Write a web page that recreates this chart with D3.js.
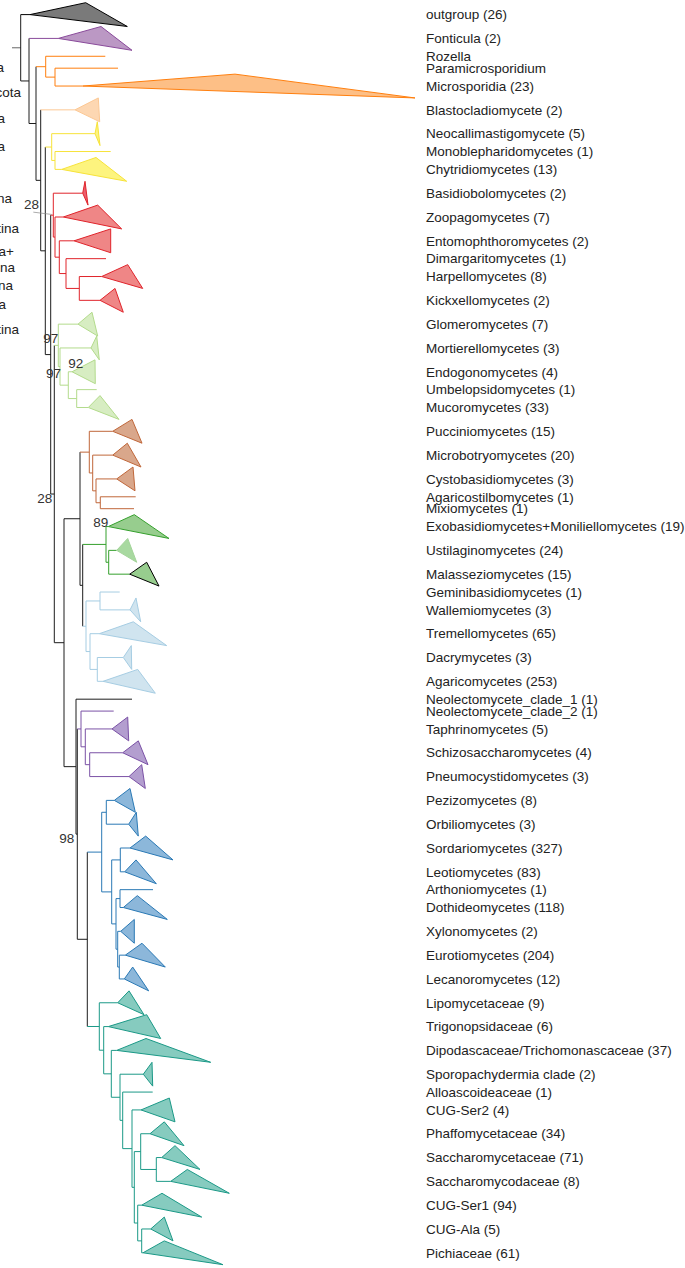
<!DOCTYPE html>
<html>
<head>
<meta charset="utf-8">
<script src="https://cdn.jsdelivr.net/npm/d3@7"></script>
<style>
  body { margin: 0; background: #fff; }
  text { font-family: "Liberation Sans", Arial, sans-serif; }
</style>
</head>
<body>
<svg id="chart" width="685" height="1268"></svg>
<script>
//Taxa in tip order, with number of genomes in each collapsed clade (null = not shown)
var taxa = ["outgroup", "Fonticula", "Rozella", "Paramicrosporidium", "Microsporidia",
  "Blastocladiomycete", "Neocallimastigomycete", "Monoblepharidomycetes", "Chytridiomycetes",
  "Basidiobolomycetes", "Zoopagomycetes", "Entomophthoromycetes", "Dimargaritomycetes",
  "Harpellomycetes", "Kickxellomycetes", "Glomeromycetes", "Mortierellomycetes",
  "Endogonomycetes", "Umbelopsidomycetes", "Mucoromycetes", "Pucciniomycetes",
  "Microbotryomycetes", "Cystobasidiomycetes", "Agaricostilbomycetes", "Mixiomycetes",
  "Exobasidiomycetes+Moniliellomycetes", "Ustilaginomycetes", "Malasseziomycetes",
  "Geminibasidiomycetes", "Wallemiomycetes", "Tremellomycetes", "Dacrymycetes",
  "Agaricomycetes", "Neolectomycete_clade_1", "Neolectomycete_clade_2", "Taphrinomycetes",
  "Schizosaccharomycetes", "Pneumocystidomycetes", "Pezizomycetes", "Orbiliomycetes",
  "Sordariomycetes", "Leotiomycetes", "Arthoniomycetes", "Dothideomycetes", "Xylonomycetes",
  "Eurotiomycetes", "Lecanoromycetes", "Lipomycetaceae", "Trigonopsidaceae",
  "Dipodascaceae/Trichomonascaceae", "Sporopachydermia clade", "Alloascoideaceae", "CUG-Ser2",
  "Phaffomycetaceae", "Saccharomycetaceae", "Saccharomycodaceae", "CUG-Ser1", "CUG-Ala",
  "Pichiaceae"];

var counts = [26, 2, null, null, 23, 2, 5, 1, 13, 2, 7, 2, 1, 8, 2, 7, 3, 4, 1, 33, 15, 20, 3, 1, 1,
  19, 24, 15, 1, 3, 65, 3, 253, 1, 1, 5, 4, 3, 8, 3, 327, 83, 1, 118, 2, 204, 12, 9, 6, 37, 2, 1,
  4, 34, 71, 8, 94, 5, 61];

//Collapsed clades: shortest and longest tip distance past the clade node (null = single tip)
var tipRange = [[55.7, 97.3], [42.7, 73.7], null, null, [152, 332], [23.3, 24.7], [2.3, 5], null,
  [34.3, 65], [2.3, 5.3], [34.4, 58.4], [36.7, 36.7], null, [26, 41], [15, 23.3], [14, 19.7],
  [5.7, 8.3], [23, 23.3], null, [11.7, 30.7], [19.3, 29.3], [14.6, 28.3], [16.3, 18.3], null, null,
  [26, 60.7], [11, 20], [17, 29.3], null, [6, 10.7], [34, 67.4], [8, 8.4], [34.7, 52.3], null, null,
  [15.7, 16.7], [15.6, 25.3], [12.7, 16.3], [15.7, 21], [7.6, 9.6], [15.7, 43], [11.3, 31.6], null,
  [14, 44], [13.6, 13.6], [16.7, 40], [8.4, 24.4], [11.3, 26.3], [38.4, 52.4], [29.3, 94],
  [8.7, 9.4], null, [28.3, 34], [14.3, 34], [13.3, 38.3], [16.6, 58.6], [20.3, 60], [13.6, 22.3],
  [21.3, 80]];

//Topology with branch lengths
var basidio = "((Pucciniomycetes:23.4,(Microbotryomycetes:20,(Cystobasidiomycetes:20.7,(Agaricostilbomycetes:35.4,Mixiomycetes:33.7)Pc3:4.3)Pc2:3.3)Pc1:3.4)Pucciniomycotina:9.3," +
  "((Exobasidiomycetes+Moniliellomycetes:2.3,(Ustilaginomycetes:8,Malasseziomycetes:21)Ust1:2.7)Ustilaginomycotina:23.3," +
  "((Geminibasidiomycetes:19.7,Wallemiomycetes:30)Aga1:14,(Tremellomycetes:9.3,(Dacrymycetes:26,Agaricomycetes:5.7)Aga3:7.3)Aga2:4)Agaricomycotina:3.3)UA:2.7)Basidiomycota:16";
var pezizo = "((Pezizomycetes:8,Orbiliomycetes:22.4)Pez1:4.6,((Sordariomycetes:9.7,Leotiomycetes:4.4)Leo1:8.6," +
  "((Arthoniomycetes:33,Dothideomycetes:3.3)Leo3:4,(Xylonomycetes:3,(Eurotiomycetes:6,Lecanoromycetes:5)Leo5:1.6)Leo4:1.7)Leo2:4.3)Leo0:10)Pezizomycotina:14.4";
var saccharo = "(Lipomycetaceae:18.4,(Trigonopsidaceae:4.6,(Dipodascaceae/Trichomonascaceae:5.4,(Sporopachydermia clade:23.3," +
  "(Alloascoideaceae:30,(CUG-Ser2:9,((Phaffomycetaceae:9.3,(Saccharomycetaceae:5.4,Saccharomycodaceae:14.4)Sac8:15.6)Sac7:6.4," +
  "(CUG-Ser1:4,(CUG-Ala:9,Pichiaceae:1.3)Sac10:4)Sac9:3.4)Sac6:2.3)Sac5:9.3)Sac4:2.7)Sac3:8.7)Sac2:7.6)Sac1:4.4)Saccharomycotina:12";
var asco = "(Neolectomycete_clade_1:56,((Neolectomycete_clade_2:32.7,(Taphrinomycetes:26.7,(Schizosaccharomycetes:33,Pneumocystidomycetes:39.3)Taph2:4.4)Taph1:4.3)Taphrinomycotina:3.7," +
  "(" + pezizo + "," + saccharo + ")PS:10)As1:1.3)Ascomycota:12";
var newick = "(outgroup:9.3,(Fonticula:29.3,(" +
  "(Rozella:59.6,(Paramicrosporidium:63,Microsporidia:28)PM:9.3)Rozellomycota:9.7," +
  "(Blastocladiomycete:34.3,(" +
  "(Neocallimastigomycete:43.3,(Monoblepharidomycetes:55.7,Chytridiomycetes:6.7)Y2:3.3)Chytridiomycota:6.4,(" +
  "(Basidiobolomycetes:29.4,(Zoopagomycetes:8.3,(Entomophthoromycetes:14.7,(Dimargaritomycetes:40,(Harpellomycetes:22.4,Kickxellomycetes:20.7)Z4:13.3)Z3:6.7)Z2:4.3)Z1:1.7)Zoopagomycota:2.6,(" +
  "(Glomeromycetes:19.7,(Mortierellomycetes:31,(Endogonomycetes:3.7,(Umbelopsidomycetes:20,Mucoromycetes:11.6)M3:8.4)M2:8.3)M1:1.7)Mucoromycota:4,(" +
  basidio + "," + asco +
  ")R:9.7)Q:3.6)P:5.4)N5:4.6)B2b:4.7)B2:7)B:8.3)root;";
var rootLength = 8.7;

//Bootstrap support shown on a few nodes
var support = [["Zoopagomycota", 28], ["Mucoromycota", 97], ["M1", 97], ["M2", 92], ["Q", 28],
  ["Exobasidiomycetes+Moniliellomycetes", 89], ["As1", 98]];

//Clades coloured in the figure (node that starts the colour)
var cladeGroups = {
  "outgroup": "outgroup", "Fonticula": "fonticula", "Rozellomycota": "rozello",
  "Blastocladiomycete": "blasto", "Chytridiomycota": "chytrid", "Zoopagomycota": "zoopago",
  "Mucoromycota": "mucoro", "Pucciniomycotina": "puccinio", "Ustilaginomycotina": "ustilago",
  "Agaricomycotina": "agarico", "Taphrinomycotina": "taphrino", "Pezizomycotina": "pezizo",
  "Saccharomycotina": "saccharo"
};

//Cut-off labels of the panel on the left
var sideLabels = ["Opisthosporidia", "Rozellomycota", "Blastocladiomycota", "Chytridiomycota",
  "Entomophthoromycotina", "Zoopagomycotina", "Kickxellomycotina+", "Dimargaritomycotina",
  "Glomeromycotina", "Mucoromycota", "Mortierellomycotina"];

/*** STYLE ***/
var palette = {
  backbone: { line: "#1c1c1c" },
  outgroup: { line: "#000000", fill: "#7a7a7a" },
  fonticula: { line: "#8a4b9b", fill: "#bb98c4" },
  rozello: { line: "#ff7f0e", fill: "#fdbf86" },
  blasto: { line: "#fcc894", fill: "#fdd7b2" },
  chytrid: { line: "#f7e33a", fill: "#fdf47e" },
  zoopago: { line: "#e0242b", fill: "#ef8686" },
  mucoro: { line: "#b3db8c", fill: "#d7edc2" },
  puccinio: { line: "#c0673a", fill: "#d9a78b" },
  ustilago: { line: "#35a02d", fill: "#97cd8e" },
  agarico: { line: "#a6cde3", fill: "#d0e4ef" },
  taphrino: { line: "#7b52a6", fill: "#b39ecf" },
  pezizo: { line: "#2a79b5", fill: "#8cb7da" },
  saccharo: { line: "#1b9987", fill: "#86cbbf" }
};
var tipStyle = {
  "Malasseziomycetes": { line: "#000000" },
  "Ustilaginomycetes": { line: "#a3d499", fill: "#a8d9a0" },
  "Basidiobolomycetes": { fill: "#ec5f6d" }
};
var supportLayout = {
  "Zoopagomycota": { dx: -14.3, dy: -6, anchor: "end", leader: true },
  "Mucoromycota": { dx: 0, dy: -2, anchor: "end" },
  "M1": { dx: 1, dy: 11.6, anchor: "end" },
  "M2": { dx: 0, dy: -17, anchor: "start" },
  "Q": { dx: -2, dy: 9, anchor: "end" },
  "Exobasidiomycetes+Moniliellomycetes": { dx: 0, dy: 0, anchor: "end" },
  "As1": { dx: -3, dy: 9, anchor: "end" }
};
var sideLayout = [[67, 4], [92, 21], [118, 5], [146, 5], [198, 12], [228, 19], [251, 14], [267, 15], [285, 13], [304, 6], [329, 19]];
var fontSize = 13.5;
var labelX = 426;

/***  FUNCTIONS ***/

//Small Newick reader: names may hold spaces, "+" and "/"
function parseNewick(s) {
  var stack = [];
  var node = {};
  var tokens = s.split(/\s*(;|\(|\)|,|:)\s*/);
  for (var i = 0; i < tokens.length; i++) {
    var t = tokens[i];
    if (t === "(") {
      var child = {};
      node.branchset = [child];
      stack.push(node);
      node = child;
    } else if (t === ",") {
      var sib = {};
      stack[stack.length - 1].branchset.push(sib);
      node = sib;
    } else if (t === ")") {
      node = stack.pop();
    } else if (t === ":" || t === ";" || t === "") {
      continue;
    } else {
      var prev = tokens[i - 1];
      if (prev === ")" || prev === "(" || prev === ",") node.name = t;
      else if (prev === ":") node.length = parseFloat(t);
    }
  }
  return node;
}

function groupOf(n) {
  for (var a = n; a; a = a.parent) {
    if (cladeGroups[a.data.name]) return cladeGroups[a.data.name];
  }
  return "backbone";
}

var index = {};
taxa.forEach(function(t, i) { index[t] = i; });

var root = d3.hierarchy(parseNewick(newick), function(d) { return d.branchset; });

//Distance from root along branches
root.eachBefore(function(n) {
  n.pos = n.parent ? n.parent.pos + (n.data.length || 0) : 0;
});
var maxPos = d3.max(root.leaves(), function(l) {
  var r = tipRange[index[l.data.name]];
  return l.pos + (r ? r[1] : 0);
});

//Collapsed clades take two rows, single tips one row
var leaves = root.leaves();
var totalRows = d3.sum(leaves, function(l) { return tipRange[index[l.data.name]] ? 2 : 1; });

var x = d3.scaleLinear().domain([0, maxPos]).range([20.7, 415]);
var y = d3.scaleLinear().domain([0, totalRows]).range([2.7, 1264.7]);

var acc = 0;
leaves.forEach(function(l) {
  var h = tipRange[index[l.data.name]] ? 2 : 1;
  l.y = y(acc + h / 2);
  acc += h;
});
root.eachAfter(function(n) {
  if (n.children) n.y = (n.children[0].y + n.children[n.children.length - 1].y) / 2;
});

var svg = d3.select("#chart");
var branches = svg.append("g").attr("fill", "none").attr("stroke-width", 1);

//Root stub
branches.append("line")
  .attr("x1", x(-rootLength)).attr("x2", x(0))
  .attr("y1", root.y).attr("y2", root.y)
  .attr("stroke", "#666");

root.descendants().forEach(function(n) {
  var col = palette[groupOf(n)].line;
  if (n.parent) {
    branches.append("line")
      .attr("x1", x(n.parent.pos)).attr("x2", x(n.pos))
      .attr("y1", n.y).attr("y2", n.y)
      .attr("stroke", col);
  }
  if (n.children) {
    branches.append("line")
      .attr("x1", x(n.pos)).attr("x2", x(n.pos))
      .attr("y1", n.children[0].y).attr("y2", n.children[n.children.length - 1].y)
      .attr("stroke", col);
  }
});

//Collapsed clades as triangles
var half = y(1) - y(0);
var tri = svg.append("g");
leaves.forEach(function(l) {
  var r = tipRange[index[l.data.name]];
  if (!r) return;
  var st = Object.assign({}, palette[groupOf(l)], tipStyle[l.data.name] || {});
  var pts = [[x(l.pos), l.y], [x(l.pos + r[0]), l.y - half], [x(l.pos + r[1]), l.y + half]];
  tri.append("path")
    .attr("d", d3.line()(pts) + "Z")
    .attr("fill", st.fill)
    .attr("stroke", st.line)
    .attr("stroke-width", 1)
    .attr("stroke-linejoin", "miter");
});

//Tip labels
svg.append("g").selectAll("text")
  .data(leaves)
  .join("text")
  .attr("x", labelX)
  .attr("y", function(d) { return d.y; })
  .attr("dy", "0.35em")
  .attr("font-size", fontSize)
  .attr("fill", "#222")
  .text(function(d) {
    var c = counts[index[d.data.name]];
    return d.data.name + (c != null ? " (" + c + ")" : "");
  });

//Support values
var byName = {};
root.descendants().forEach(function(n) { if (n.data.name) byName[n.data.name] = n; });
var sup = svg.append("g");
support.forEach(function(s) {
  var n = byName[s[0]];
  var lay = supportLayout[s[0]];
  sup.append("text")
    .attr("x", x(n.pos) + lay.dx)
    .attr("y", n.y + lay.dy)
    .attr("text-anchor", lay.anchor)
    .attr("font-size", fontSize)
    .attr("fill", "#333")
    .text(s[1]);
  if (lay.leader) {
    sup.append("line")
      .attr("x1", x(n.pos) - 20).attr("y1", n.y - 3)
      .attr("x2", x(n.pos) - 1.6).attr("y2", n.y - 0.7)
      .attr("stroke", "#888").attr("stroke-width", 0.7);
  }
});

//Left panel labels, cut by the page edge
svg.append("g").selectAll("text")
  .data(sideLabels)
  .join("text")
  .attr("x", function(d, i) { return sideLayout[i][1]; })
  .attr("y", function(d, i) { return sideLayout[i][0]; })
  .attr("dy", "0.35em")
  .attr("text-anchor", "end")
  .attr("font-size", fontSize)
  .attr("fill", "#222")
  .text(function(d) { return d; });
</script>
</body>
</html>
